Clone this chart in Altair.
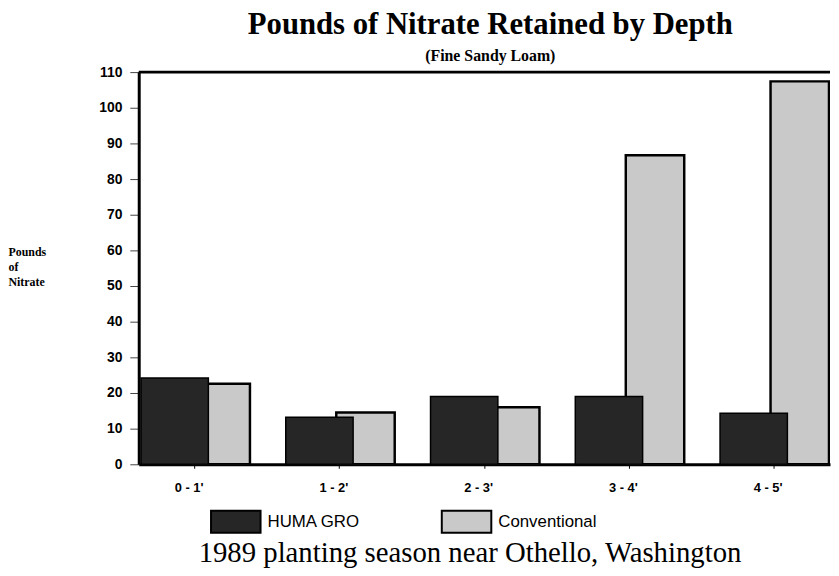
import json
import altair as alt
import pandas as pd

depths = ["0 - 1'", "1 - 2'", "2 - 3'", "3 - 4'", "4 - 5'"]
huma_gro = [24.2, 13.2, 19.0, 19.0, 14.3]
conventional = [22.6, 14.5, 16.0, 86.7, 107.4]
series = ["HUMA GRO", "Conventional"]
series_colors = ["#262626", "#c9c9c9"]
y_ticks = list(range(0, 111, 10))
y_top = [110]
caption = "1989 planting season near Othello, Washington"
y_title = ["Pounds", "of", "Nitrate"]

rows = []
for i, d in enumerate(depths):
    rows.append({"idx": i, "depth": d, "series": series[0], "value": huma_gro[i]})
    rows.append({"idx": i, "depth": d, "series": series[1], "value": conventional[i]})
df = pd.DataFrame(rows)

label_expr = json.dumps(depths) + "[datum.value]"

x_enc = alt.X(
    "idx:Q",
    scale=alt.Scale(domain=[-0.351, 4.356], nice=False, zero=False),
    axis=alt.Axis(
        values=list(range(len(depths))),
        labelExpr=label_expr,
        labelOverlap=False,
        title=caption,
        titleFont="Liberation Serif",
        titleFontSize=29,
        titleFontWeight="normal",
        titleColor="black",
        titleX=334,
        titleY=98,
        titleBaseline="alphabetic",
        titleAnchor="middle",
        labelFont="Liberation Sans",
        labelFontSize=13,
        labelFontWeight="bold",
        labelColor="black",
        labelPadding=13,
        labelOffset=-6,
        tickSize=4,
        tickColor="black",
        domainWidth=3,
        domainColor="black",
        grid=False,
    ),
)
y_axis = alt.Axis(
    values=y_ticks,
    labelOverlap=False,
    title=y_title,
    titleAngle=0,
    titleAlign="left",
    titleBaseline="top",
    titleX=-132,
    titleY=176,
    titleFont="Liberation Serif",
    titleFontSize=12,
    titleFontWeight="bold",
    titleLineHeight=15,
    titleColor="black",
    labelFont="Liberation Sans",
    labelFontSize=14,
    labelFontWeight="bold",
    labelColor="black",
    labelPadding=8,
    tickSize=9,
    tickColor="#444444",
    domainWidth=3,
    domainColor="black",
    grid=False,
)
y_scale = alt.Scale(domain=[0, 110], nice=False)
y_enc = alt.Y("value:Q", scale=y_scale, axis=y_axis)
color_enc = alt.Color(
    "series:N",
    scale=alt.Scale(domain=series, range=series_colors),
    sort=series,
    legend=alt.Legend(
        title=None,
        orient="none",
        legendX=72,
        legendY=428,
        direction="horizontal",
        symbolType="M-1,-0.44H1V0.44H-1Z",
        symbolSize=2500,
        symbolStrokeColor="black",
        symbolStrokeWidth=2,
        symbolOpacity=1,
        labelFont="Liberation Sans",
        labelFontSize=17,
        labelColor="black",
        labelOffset=6,
        columnPadding=78,
    ),
)

base = alt.Chart(df)
conv_bars = base.transform_filter(alt.datum.series == series[1]).mark_bar(
    width=59, xOffset=26.5, stroke="black", strokeWidth=2.5, clip=True, opacity=1
).encode(x=x_enc, y=y_enc, color=color_enc)
huma_bars = base.transform_filter(alt.datum.series == series[0]).mark_bar(
    width=68, xOffset=-20, stroke="black", strokeWidth=1.5, clip=True, opacity=1
).encode(x=x_enc, y=y_enc, color=color_enc)
top_rule = alt.Chart(pd.DataFrame({"value": y_top})).mark_rule(
    color="black", strokeWidth=3
).encode(y=y_enc)

chart = alt.layer(conv_bars, huma_bars, top_rule).properties(
    width=698,
    height=396,
    autosize=alt.AutoSizeParams(type="none"),
    padding={"left": 132, "top": 62, "right": 1, "bottom": 105},
    background="white",
    title=alt.TitleParams(
        text="Pounds of Nitrate Retained by Depth",
        subtitle="(Fine Sandy Loam)",
        font="Liberation Serif",
        fontSize=31,
        fontWeight="bold",
        color="black",
        subtitleFont="Liberation Serif",
        subtitleFontSize=16,
        subtitleFontWeight="bold",
        subtitleColor="black",
        subtitlePadding=7,
        anchor="middle",
        dx=6,
        offset=0,
    ),
).configure_view(strokeWidth=0)

chart.save("out.html", embed_options={"renderer": "svg", "actions": False})
